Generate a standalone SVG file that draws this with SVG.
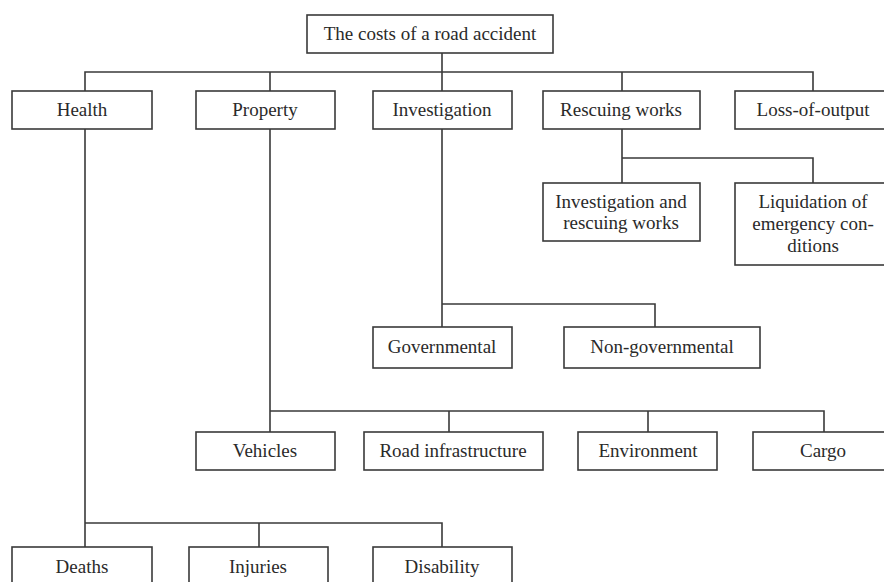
<svg xmlns="http://www.w3.org/2000/svg" width="884" height="582" viewBox="0 0 884 582">
<style>
.b{fill:#fff;stroke:#3a3a3a;stroke-width:1.6}
.t{font-family:"Liberation Serif","Times New Roman",serif;font-size:19px;fill:#2a2a2a;text-anchor:middle}
.c{fill:none;stroke:#3a3a3a;stroke-width:1.6}
</style>
<rect width="884" height="582" fill="#fff"/>
<g id="connectors">
<path class="c" d="M442 53V91M85 91V72H813V91M270 72V91M622 72V91"/>
<path class="c" d="M622 129V183M622 158H813V183"/>
<path class="c" d="M442 129V327M442 304H655V327"/>
<path class="c" d="M270 129V432M270 411H824V432M449 411V432M648 411V432"/>
<path class="c" d="M85 129V547M85 523H442V547M259 523V547"/>
</g>
<g id="root"><rect class="b" x="307" y="15" width="246" height="38"/><text class="t" x="430" y="40">The costs of a road accident</text></g>
<g id="health"><rect class="b" x="12" y="91" width="140" height="38"/><text class="t" x="82" y="116">Health</text></g>
<g id="property"><rect class="b" x="196" y="91" width="139" height="38"/><text class="t" x="265" y="116">Property</text></g>
<g id="investigation"><rect class="b" x="373" y="91" width="139" height="38"/><text class="t" x="442" y="116">Investigation</text></g>
<g id="rescuing"><rect class="b" x="543" y="91" width="157" height="38"/><text class="t" x="621" y="116">Rescuing works</text></g>
<g id="loss"><rect class="b" x="735" y="91" width="160" height="38"/><text class="t" x="813" y="116">Loss-of-output</text></g>
<g id="invrescue"><rect class="b" x="543" y="183" width="157" height="58"/><text class="t" x="621" y="208">Investigation and</text><text class="t" x="621" y="229">rescuing works</text></g>
<g id="liquidation"><rect class="b" x="735" y="183" width="160" height="82"/><text class="t" x="813" y="208">Liquidation of</text><text class="t" x="813" y="230">emergency con-</text><text class="t" x="813" y="252">ditions</text></g>
<g id="governmental"><rect class="b" x="373" y="327" width="139" height="41"/><text class="t" x="442" y="353">Governmental</text></g>
<g id="nongovernmental"><rect class="b" x="564" y="327" width="196" height="41"/><text class="t" x="662" y="353">Non-governmental</text></g>
<g id="vehicles"><rect class="b" x="196" y="432" width="139" height="38"/><text class="t" x="265" y="457">Vehicles</text></g>
<g id="road"><rect class="b" x="364" y="432" width="179" height="38"/><text class="t" x="453" y="457">Road infrastructure</text></g>
<g id="environment"><rect class="b" x="578" y="432" width="139" height="38"/><text class="t" x="648" y="457">Environment</text></g>
<g id="cargo"><rect class="b" x="753" y="432" width="142" height="38"/><text class="t" x="823" y="457">Cargo</text></g>
<g id="deaths"><rect class="b" x="12" y="547" width="140" height="40"/><text class="t" x="82" y="573">Deaths</text></g>
<g id="injuries"><rect class="b" x="189" y="547" width="139" height="40"/><text class="t" x="258" y="573">Injuries</text></g>
<g id="disability"><rect class="b" x="373" y="547" width="139" height="40"/><text class="t" x="442" y="573">Disability</text></g>
</svg>
